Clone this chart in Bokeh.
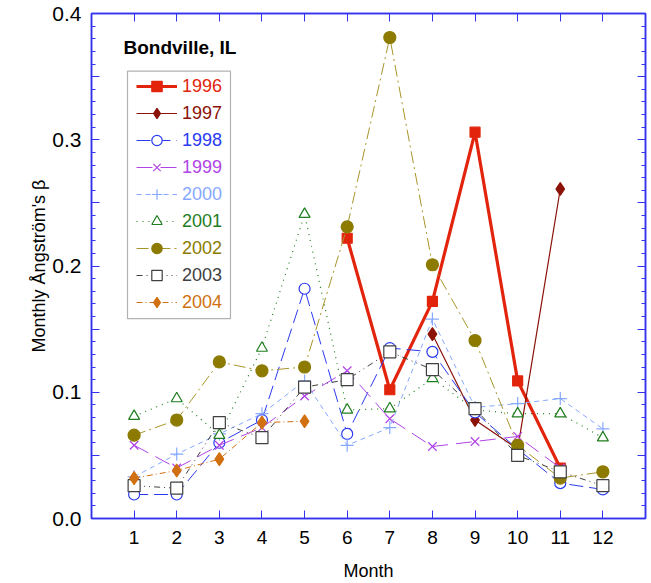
import numpy as np
from bokeh.plotting import figure
from bokeh.models import (Range1d, FixedTicker, LinearAxis, Legend, LegendItem,
                          BoxAnnotation, Label, PrintfTickFormatter)
from bokeh.embed import file_html
from bokeh.resources import INLINE

nan = np.nan
months = list(range(1, 13))

b1996 = [nan, nan, nan, nan, nan, 0.222, 0.102, 0.172, 0.306, 0.109, 0.040, nan]
b1997 = [nan, nan, nan, nan, nan, nan, nan, 0.146, 0.078, 0.055, 0.261, nan]
b1998 = [0.019, 0.019, 0.060, 0.078, 0.182, 0.067, 0.135, 0.132, 0.084, 0.055, 0.028, 0.023]
b1999 = [0.058, 0.040, 0.058, 0.072, 0.097, 0.117, 0.079, 0.057, 0.061, 0.065, 0.040, nan]
b2000 = [0.033, 0.051, 0.067, 0.083, 0.109, 0.058, 0.072, 0.158, 0.088, 0.091, 0.095, 0.071]
b2001 = [0.081, 0.095, 0.066, 0.135, 0.241, 0.086, 0.087, 0.111, 0.086, 0.083, 0.083, 0.064]
b2002 = [0.066, 0.078, 0.124, 0.117, 0.120, 0.231, 0.381, 0.201, 0.141, 0.058, 0.032, 0.037]
b2003 = [0.026, 0.024, 0.076, 0.064, 0.104, 0.110, 0.132, 0.118, 0.087, 0.050, 0.037, 0.026]
b2004 = [0.032, 0.038, 0.047, 0.076, 0.077, nan, nan, nan, nan, nan, nan, nan]

years = ["1996", "1997", "1998", "1999", "2000", "2001", "2002", "2003", "2004"]
values = [b1996, b1997, b1998, b1999, b2000, b2001, b2002, b2003, b2004]
colors = ["#e3240c", "#8b1208", "#2a3af0", "#b044e6", "#86a8ff", "#1e7d1e",
          "#8c7b00", "#404040", "#d07010"]
line_colors = ["#e3240c", "#8b1208", "#2a3af0", "#b044e6", "#86a8ff", "#1e7d1e",
               "#a8952a", "#404040", "#d07010"]
dashes = ["solid", "solid", "14 6", "16 8", "5 4", "1 5", "12 4 2 4", "6 4 1 4 1 4", "6 3 1 3"]
widths = [3.2, 1.2, 1, 1, 1, 1.2, 1, 1, 1]
markers = ["square", "diamond", "circle", "x", "cross", "triangle", "circle", "square", "diamond"]
sizes = [10, 13, 11, 12, 13, 11, 12, 12, 13]
filled = [True, True, False, False, False, False, True, False, True]

month_ticks = months
y_major = [0, 0.05, 0.1, 0.15, 0.2, 0.25, 0.3, 0.35, 0.4]
y_minor = [round(i * 0.01, 2) for i in range(41)]

FONT = "Liberation Sans"
AXC = "#3333ee"

p = figure(width=648, height=583, output_backend="svg", toolbar_location=None,
           x_range=Range1d(0, 13), y_range=Range1d(0, 0.4),
           min_border_left=91, min_border_right=3, min_border_top=13, min_border_bottom=62)
p.xgrid.visible = False
p.ygrid.visible = False
p.outline_line_color = AXC
p.outline_line_width = 1.5
p.background_fill_color = "white"
p.border_fill_color = "white"

def style_axis(ax, labels=True, size="19px"):
    ax.axis_line_color = AXC
    ax.axis_line_width = 1.5
    ax.major_tick_line_color = AXC
    ax.minor_tick_line_color = AXC
    ax.major_tick_in = 8
    ax.major_tick_out = 0
    ax.minor_tick_in = 4
    ax.minor_tick_out = 0
    ax.major_label_text_font = FONT
    ax.major_label_text_font_size = size if labels else "0px"
    ax.major_label_text_color = "black"
    ax.axis_label_text_font = FONT
    ax.axis_label_text_font_size = "18px"
    ax.axis_label_text_font_style = "normal"
    ax.axis_label_text_color = "black"
    if not labels:
        ax.major_label_standoff = 0

xa = p.xaxis[0]
xa.ticker = FixedTicker(ticks=month_ticks, minor_ticks=[])
xa.axis_label = "Month"
style_axis(xa)
xa.major_label_standoff = 12
xa.axis_label_standoff = 14

ya = p.yaxis[0]
ya.ticker = FixedTicker(ticks=y_major, minor_ticks=y_minor)
ya.formatter = PrintfTickFormatter(format="%.1f")
ya.major_label_overrides = {0.05: "", 0.15: "", 0.25: "", 0.35: ""}
ya.axis_label = "Monthly Ångström's β"
style_axis(ya, size="21px")
ya.major_label_standoff = 10
ya.axis_label_standoff = 0

ra = LinearAxis(ticker=FixedTicker(ticks=y_major, minor_ticks=y_minor))
style_axis(ra, labels=False)
ra.major_label_overrides = {v: "" for v in y_major}
p.add_layout(ra, "right")
ta = LinearAxis(ticker=FixedTicker(ticks=month_ticks, minor_ticks=[]))
style_axis(ta, labels=False)
ta.major_label_overrides = {v: "" for v in month_ticks}
p.add_layout(ta, "above")

legends = []
for i, (yr, vals) in enumerate(zip(years, values)):
    vals = np.array(vals, dtype=float)
    lr = p.line(months, vals, line_color=line_colors[i], line_width=widths[i],
                line_dash=dashes[i])
    fill = colors[i] if filled[i] else "white"
    sr = p.scatter(months, vals, marker=markers[i], size=sizes[i],
                   line_color=colors[i], fill_color=fill, line_width=1.2)
    leg = Legend(items=[LegendItem(label=yr, renderers=[lr, sr])],
                 location=(45, 434 - 27 * i - 15), orientation="vertical",
                 padding=0, spacing=0, margin=0,
                 border_line_alpha=0, background_fill_alpha=0,
                 glyph_width=41, glyph_height=26, label_height=26,
                 label_standoff=5, label_text_font=FONT,
                 label_text_font_size="18px", label_text_color=colors[i],
                 label_text_baseline="middle")
    legends.append(leg)

for leg in legends:
    p.add_layout(leg, "center")

box = BoxAnnotation(left=0.845, right=3.261, bottom=0.1583, top=0.3543,
                    fill_alpha=0, line_color="black", line_width=1.2)
p.add_layout(box)

title = Label(x=0.751, y=0.3732, text="Bondville, IL", text_font=FONT,
              text_font_size="19px", text_font_style="bold", text_color="black",
              text_baseline="middle")
p.add_layout(title)

open("out.html", "w").write(file_html(p, INLINE))
